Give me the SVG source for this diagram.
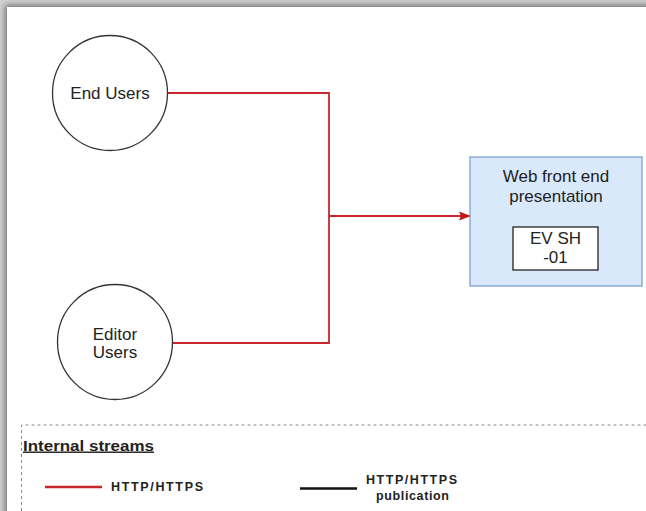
<svg xmlns="http://www.w3.org/2000/svg" width="646" height="511" viewBox="0 0 646 511">
  <defs>
    <filter id="pageShadow" x="-5%" y="-5%" width="110%" height="110%">
      <feGaussianBlur stdDeviation="3"/>
    </filter>
    <marker id="arrowRed" viewBox="0 0 12 10" refX="11" refY="5" markerWidth="12" markerHeight="10" markerUnits="userSpaceOnUse" orient="auto">
      <path d="M0,0.5 L12,5 L0,9.5 L2,5 Z" fill="#c0161b"/>
    </marker>
    <style>
      .actor { fill: #ffffff; stroke: #333333; stroke-width: 1.3; }
      .lbl { font-family: "Liberation Sans", Arial, sans-serif; font-size: 17px; fill: #222222; text-anchor: middle; }
      .flow { fill: none; stroke: #c9262b; stroke-width: 1.8; }
      .legend { font-family: "Liberation Sans", Arial, sans-serif; font-weight: bold; font-size: 12.5px; fill: #222222; }
    </style>
  </defs>

  <!-- page background with soft shadow on the top and left edges -->
  <rect x="0" y="0" width="646" height="511" fill="#d2d2d2"/>
  <rect x="5" y="5" width="700" height="600" fill="#707070" filter="url(#pageShadow)"/>
  <rect x="7" y="7" width="700" height="600" fill="#ffffff"/>

  <!-- connectors -->
  <g id="connectors">
    <polyline class="flow" points="167,93 329,93 329,343 173,343"/>
    <line class="flow" x1="329" y1="216" x2="470" y2="216" marker-end="url(#arrowRed)"/>
  </g>

  <g id="end-users">
    <circle class="actor" cx="110" cy="93" r="57.5"/>
    <text class="lbl" x="110" y="99">End Users</text>
  </g>

  <g id="editor-users">
    <circle class="actor" cx="115" cy="342" r="57.5"/>
    <text class="lbl" x="115" y="340">Editor</text>
    <text class="lbl" x="115" y="358">Users</text>
  </g>

  <g id="web-front-end">
    <rect x="470" y="157" width="172" height="129" fill="#dae8fc" stroke="#7d9fcf" stroke-width="1.3"/>
    <text class="lbl" x="556" y="182">Web front end</text>
    <text class="lbl" x="556" y="202">presentation</text>
    <g id="ev-sh-01">
      <rect x="513" y="227" width="85" height="43" fill="#ffffff" stroke="#222222" stroke-width="1.3"/>
      <text class="lbl" x="555.5" y="244">EV SH</text>
      <text class="lbl" x="555.5" y="263">-01</text>
    </g>
  </g>

  <!-- legend -->
  <g id="legend">
    <polyline points="21.5,511 21.5,425 646,425" fill="none" stroke="#888888" stroke-width="1" stroke-dasharray="3,3"/>
    <text x="23" y="450.5" font-family="'Liberation Sans', Arial, sans-serif" font-weight="bold" font-size="14.5" fill="#222222" text-decoration="underline" textLength="131" lengthAdjust="spacingAndGlyphs">Internal streams</text>
    <line x1="45" y1="487" x2="102" y2="487" stroke="#c9262b" stroke-width="2.5"/>
    <text class="legend" x="111" y="491" textLength="92">HTTP/HTTPS</text>
    <line x1="300" y1="488.5" x2="357" y2="488.5" stroke="#111111" stroke-width="2.5"/>
    <text class="legend" x="366" y="484" textLength="91">HTTP/HTTPS</text>
    <text class="legend" x="376" y="499.5" textLength="73">publication</text>
  </g>
</svg>
